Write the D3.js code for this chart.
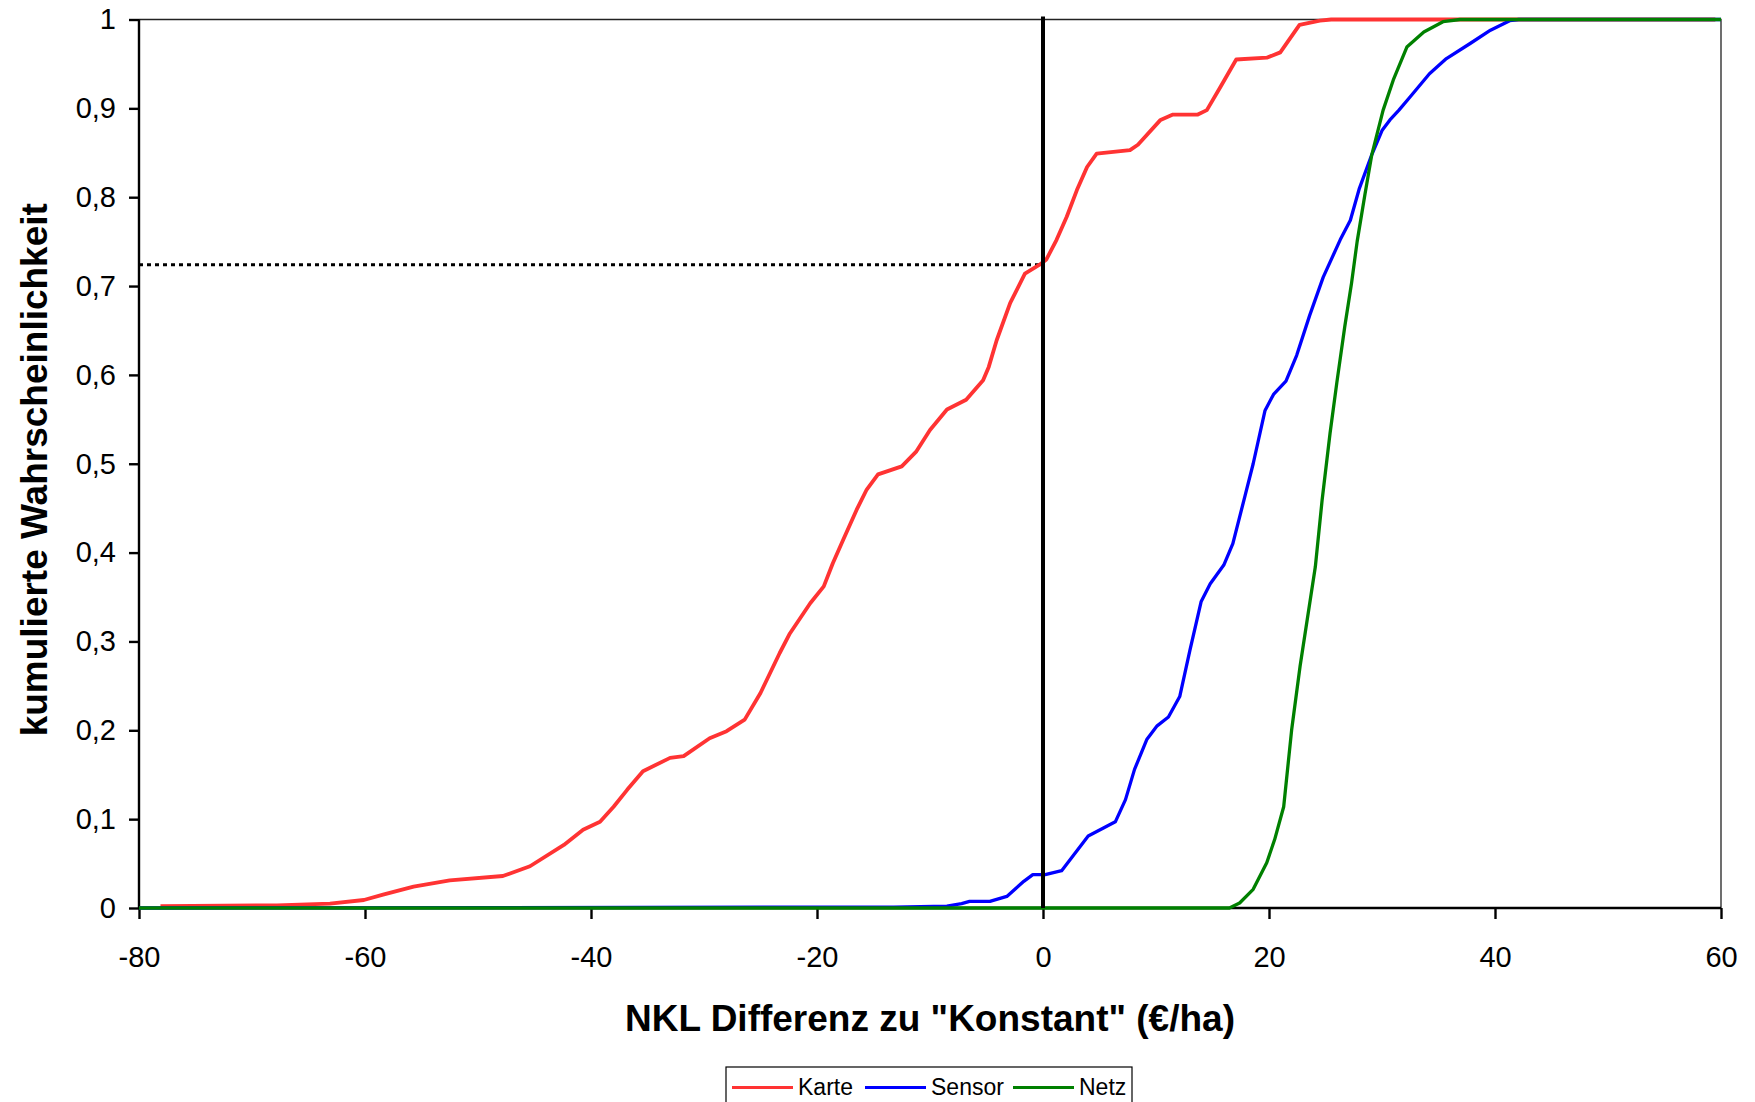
<!DOCTYPE html>
<html>
<head>
<meta charset="utf-8">
<script src="https://cdn.jsdelivr.net/npm/d3@7"></script>
<style>
  html, body { margin: 0; padding: 0; background: #fff; }
  svg { display: block; font-family: "Liberation Sans", Arial, sans-serif; }
</style>
</head>
<body>
<div id="chart"></div>
<script>
// Achsen
const xTicks = [-80, -60, -40, -20, 0, 20, 40, 60];
const yTicks = [0, 0.1, 0.2, 0.3, 0.4, 0.5, 0.6, 0.7, 0.8, 0.9, 1];
const seriesNames = ["Karte", "Sensor", "Netz"];
const seriesColors = ["#ff3333", "#0000ff", "#008000"];

// Karte
const karteX = [-78.1, -67.8, -63.1, -60.1, -58.4, -55.7, -52.5, -47.8, -45.4, -42.4, -40.7, -39.2, -38.0, -36.8,
  -35.4, -33.0, -31.8, -29.5, -28.0, -26.4, -25.0, -23.3, -22.4, -20.6, -19.4, -18.6, -17.7, -16.5, -15.6, -14.6,
  -12.5, -11.2, -10.0, -8.5, -6.8, -5.3, -4.8, -4.1, -2.9, -1.6, -0.3, 0.3, 1.2, 2.1, 3.0, 3.9, 4.75, 7.7, 8.4,
  10.4, 11.5, 13.7, 14.5, 15.7, 17.1, 19.8, 21.0, 22.7, 24.5, 25.5, 59.5];
const karteY = [0.002, 0.003, 0.005, 0.009, 0.015, 0.024, 0.031, 0.036, 0.047, 0.071, 0.088, 0.097, 0.114, 0.133,
  0.154, 0.169, 0.171, 0.191, 0.199, 0.212, 0.242, 0.287, 0.309, 0.343, 0.362, 0.388, 0.414, 0.448, 0.471, 0.488,
  0.497, 0.514, 0.538, 0.561, 0.572, 0.594, 0.609, 0.639, 0.681, 0.714, 0.724, 0.730, 0.752, 0.778, 0.808, 0.834, 0.849, 0.853, 0.859,
  0.887, 0.893, 0.893, 0.898, 0.924, 0.955, 0.957, 0.963, 0.994, 0.9987, 1, 1];

// Sensor
const sensorX = [-80, -13.2, -8.5, -7.2, -6.5, -4.7, -3.2, -1.7, -0.9, 0.2, 1.65, 4.0, 5.35, 6.4, 7.3, 8.1, 9.2,
  10.1, 11.1, 12.1, 13.0, 14.0, 14.8, 16.0, 16.8, 17.9, 18.6, 19.65, 20.4, 21.5, 22.45, 23.6, 24.8, 26.3, 27.2,
  28.0, 29.1, 30.0, 30.7, 31.5, 32.5, 34.2, 35.7, 37.8, 39.6, 41.3, 42.1, 60];
const sensorY = [0, 0.001, 0.002, 0.005, 0.0075, 0.0075, 0.013, 0.030, 0.0375, 0.0375, 0.042, 0.081, 0.090, 0.097,
  0.122, 0.156, 0.19, 0.205, 0.215, 0.238, 0.29, 0.345, 0.365, 0.386, 0.41, 0.465, 0.50, 0.56, 0.578, 0.593, 0.622,
  0.667, 0.71, 0.752, 0.774, 0.81, 0.848, 0.875, 0.887, 0.898, 0.913, 0.939, 0.956, 0.973, 0.988, 0.9987, 1, 1];

// Netz
const netzX = [-80, 16.5, 17.4, 18.6, 19.8, 20.5, 21.3, 22.0, 22.75, 24.1, 24.7, 25.4, 26.0, 26.7, 27.3, 27.8,
  28.5, 29.1, 30.1, 31.0, 32.2, 33.7, 35.4, 36.9, 60];
const netzY = [0, 0, 0.0056, 0.021, 0.051, 0.077, 0.114, 0.20, 0.272, 0.384, 0.459, 0.534, 0.591, 0.654, 0.703,
  0.75, 0.804, 0.848, 0.898, 0.932, 0.969, 0.986, 0.9975, 1, 1];

// Referenzlinie bei x = 0
const refX = 0;
const refY = 0.724;

(function () {
  const width = 1755, height = 1102;
  const margin = { top: 19.5, right: 34, bottom: 194, left: 139 };

  const svg = d3.select("#chart").append("svg")
    .attr("width", width)
    .attr("height", height);

  const x = d3.scaleLinear().domain([-80, 60]).range([margin.left, width - margin.right]);
  const y = d3.scaleLinear().domain([0, 1]).range([height - margin.bottom, margin.top]);

  // Rahmen oben/rechts
  svg.append("path")
    .attr("d", `M${x(-80)},${y(1)}H${x(60)}V${y(0)}`)
    .attr("fill", "none")
    .attr("stroke", "#222")
    .attr("stroke-width", 1.3);

  const fmt = d => d === 0 ? "0" : d === 1 ? "1" : String(d).replace(".", ",");

  const yAxis = svg.append("g")
    .attr("transform", `translate(${x(-80)},0)`)
    .call(d3.axisLeft(y).tickValues(yTicks).tickFormat(fmt).tickSize(10).tickPadding(13));
  const xAxis = svg.append("g")
    .attr("transform", `translate(0,${y(0)})`)
    .call(d3.axisBottom(x).tickValues(xTicks).tickFormat(d => String(d)).tickSize(11).tickPadding(27));

  [xAxis, yAxis].forEach(g => {
    g.select(".domain").attr("stroke", "#000").attr("stroke-width", 2.4);
    g.selectAll(".tick line").attr("stroke", "#000").attr("stroke-width", 2.4);
    g.selectAll(".tick text").attr("font-size", 29).attr("fill", "#000")
      .attr("font-family", "'Liberation Sans', Arial, sans-serif");
  });
  xAxis.select(".domain").attr("d", `M${x(-80)},0H${x(60)}`);
  yAxis.select(".domain").attr("d", `M0,${y(0)}V${y(1)}`);

  // Linien
  const line = d3.line().x(d => x(d[0])).y(d => y(d[1]));
  const allSeries = [
    karteX.map((v, i) => [v, karteY[i]]),
    sensorX.map((v, i) => [v, sensorY[i]]),
    netzX.map((v, i) => [v, netzY[i]])
  ];
  const widths = [3.8, 3.3, 3.3];

  // gepunktete Linie
  svg.append("line")
    .attr("x1", x(-80)).attr("x2", x(refX))
    .attr("y1", y(refY)).attr("y2", y(refY))
    .attr("stroke", "#000")
    .attr("stroke-width", 3)
    .attr("stroke-dasharray", "4,4");

  allSeries.forEach((s, i) => {
    svg.append("path")
      .datum(s)
      .attr("fill", "none")
      .attr("stroke", seriesColors[i])
      .attr("stroke-width", widths[i])
      .attr("stroke-linejoin", "round")
      .attr("d", line);
  });

  // senkrechte Linie bei 0
  svg.append("line")
    .attr("x1", x(refX)).attr("x2", x(refX))
    .attr("y1", y(1) - 3).attr("y2", y(0))
    .attr("stroke", "#000")
    .attr("stroke-width", 4);

  // Achsentitel
  svg.append("text")
    .attr("x", (x(-80) + x(60)) / 2)
    .attr("y", 1031)
    .attr("text-anchor", "middle")
    .attr("font-size", 37)
    .attr("font-weight", "bold")
    .text("NKL Differenz zu \"Konstant\" (€/ha)");

  svg.append("text")
    .attr("transform", `translate(47,${(y(0) + y(1)) / 2 + 6}) rotate(-90)`)
    .attr("text-anchor", "middle")
    .attr("font-size", 37)
    .attr("font-weight", "bold")
    .text("kumulierte Wahrscheinlichkeit");

  // Legende
  const legend = svg.append("g");
  legend.append("rect")
    .attr("x", 726).attr("y", 1067)
    .attr("width", 406).attr("height", 60)
    .attr("fill", "#fff")
    .attr("stroke", "#000")
    .attr("stroke-width", 1.2);
  const legX = [732, 865, 1013];
  seriesNames.forEach((n, i) => {
    legend.append("line")
      .attr("x1", legX[i]).attr("x2", legX[i] + 61)
      .attr("y1", 1087.5).attr("y2", 1087.5)
      .attr("stroke", seriesColors[i])
      .attr("stroke-width", 3);
    legend.append("text")
      .attr("x", legX[i] + 66)
      .attr("y", 1095)
      .attr("font-size", 23)
      .text(n);
  });
})();
</script>
</body>
</html>
